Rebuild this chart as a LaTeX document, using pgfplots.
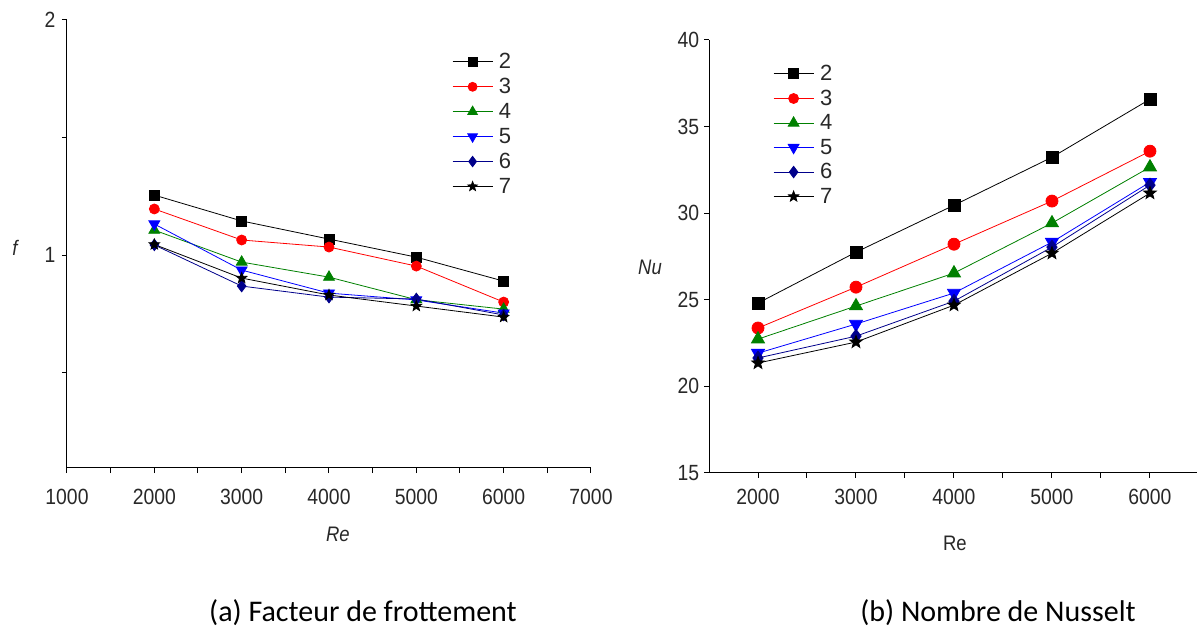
\documentclass[border=0pt]{standalone}
\usepackage{pgfplots}
\pgfplotsset{compat=1.18}
\usepackage{fontspec}
\setmainfont{Liberation Sans}
\newfontfamily\capfont{Carlito}
\usetikzlibrary{plotmarks}

\pgfdeclareplotmark{fstar}{%
  \pgfpathmoveto{\pgfpointpolar{90}{\pgfplotmarksize}}%
  \pgfpathlineto{\pgfpointpolar{126}{0.42\pgfplotmarksize}}%
  \pgfpathlineto{\pgfpointpolar{162}{\pgfplotmarksize}}%
  \pgfpathlineto{\pgfpointpolar{198}{0.42\pgfplotmarksize}}%
  \pgfpathlineto{\pgfpointpolar{234}{\pgfplotmarksize}}%
  \pgfpathlineto{\pgfpointpolar{270}{0.42\pgfplotmarksize}}%
  \pgfpathlineto{\pgfpointpolar{306}{\pgfplotmarksize}}%
  \pgfpathlineto{\pgfpointpolar{342}{0.42\pgfplotmarksize}}%
  \pgfpathlineto{\pgfpointpolar{18}{\pgfplotmarksize}}%
  \pgfpathlineto{\pgfpointpolar{54}{0.42\pgfplotmarksize}}%
  \pgfpathclose
  \pgfusepathqfillstroke
}

\definecolor{ogreen}{RGB}{0,128,0}
\definecolor{onavy}{RGB}{0,0,139}
\definecolor{txt}{RGB}{40,40,40}

\pgfplotsset{
  common/.style={
    scale only axis,
    axis x line*=bottom, axis y line*=left,
    axis line style={line width=1pt, black},
    tick align=outside,
    major tick length=5pt, minor tick length=5pt,
    every tick/.style={line width=1pt, black},
    tick label style={font=\fontsize{22}{24}\selectfont, text=txt, xscale=0.88},
    /pgf/number format/assume math mode=true,
    /pgf/number format/1000 sep={},
    scaled ticks=false,
    legend cell align=left,
    legend style={draw=none, fill=none, font=\fontsize{22}{24}\selectfont, text=txt,
      /tikz/every odd column/.append style={column sep=4pt}},
    s2/.style={black, line width=0.8pt, mark=square*, mark options={solid, fill=black}},
    s3/.style={red, line width=0.8pt, mark=*, mark options={solid, fill=red}},
    s4/.style={ogreen, line width=0.8pt, mark=triangle*, mark options={solid, fill=ogreen, scale=1.25}},
    s5/.style={blue, line width=0.8pt, mark=triangle*, mark options={solid, fill=blue, rotate=180, scale=1.25}},
    s6/.style={onavy, line width=0.8pt, mark=diamond*, mark options={solid, fill=onavy, scale=1.15}},
    s7/.style={black, line width=0.8pt, mark=fstar, mark options={solid, fill=black, scale=1.1}},
  }
}

\pgfplotstableread{
Re   a2    a3    a4    a5    a6    a7
2000 1.255 1.196 1.106 1.132 1.043 1.045
3000 1.145 1.064 0.970 0.936 0.868 0.902
4000 1.068 1.034 0.906 0.838 0.821 0.830
5000 0.991 0.953 0.810 0.809 0.813 0.783
6000 0.889 0.800 0.770 0.753 0.745 0.736
}\ftab

\pgfplotstableread{
Re   b2    b3    b4    b5    b6    b7
2000 24.81 23.37 22.73 21.92 21.64 21.35
3000 27.75 25.73 24.64 23.60 22.90 22.56
4000 30.46 28.21 26.54 25.39 24.92 24.69
5000 33.23 30.70 29.43 28.33 28.04 27.69
6000 36.58 33.58 32.66 31.79 31.62 31.16
}\nutab

\begin{document}
\begin{tikzpicture}
\useasboundingbox (0,0) rectangle (1197pt,632pt);

% ---------- (a) friction factor ----------
\begin{axis}[common,
  at={(67pt,164pt)}, anchor=south west,
  width=524pt, height=448pt,
  xmin=1000, xmax=7000, ymin=0.094, ymax=2,
  xtick={1000,2000,...,7000},
  minor xtick={1500,2500,...,6500},
  ytick={1,2}, minor ytick={0.5,1.5},
  xticklabel style={yshift=-13pt},
  yticklabel style={xshift=-4pt},
  xlabel={\fontsize{21}{24}\selectfont\itshape Re},
  every axis x label/.style={at={(rel axis cs:0.517,0)}, anchor=center, yshift=-66pt, text=txt, xscale=0.88},
  ylabel={\fontsize{21}{24}\selectfont\itshape f},
  every axis y label/.style={at={(rel axis cs:0,0.491)}, anchor=center, xshift=-52pt, text=txt, xscale=0.88},
  mark size=5pt,
  legend image code/.code={\draw[mark repeat=2, mark phase=2, mark size=4.5pt] plot coordinates {(0pt,0pt) (20pt,0pt) (40pt,0pt)};},
  legend style={at={(rel axis cs:0.729,0.935)}, anchor=north west, row sep=4.2pt},
]
\addplot[s2] table[x=Re, y=a2] {\ftab}; \addlegendentry{2}
\addplot[s3] table[x=Re, y=a3] {\ftab}; \addlegendentry{3}
\addplot[s4] table[x=Re, y=a4] {\ftab}; \addlegendentry{4}
\addplot[s5] table[x=Re, y=a5] {\ftab}; \addlegendentry{5}
\addplot[s6] table[x=Re, y=a6] {\ftab}; \addlegendentry{6}
\addplot[s7] table[x=Re, y=a7] {\ftab}; \addlegendentry{7}
\end{axis}

% ---------- (b) Nusselt ----------
\begin{axis}[common,
  at={(709pt,159pt)}, anchor=south west,
  width=488pt, height=433pt,
  xmin=1500, xmax=6480, ymin=15, ymax=40,
  xtick={2000,3000,...,6000},
  minor xtick={2500,3500,...,5500},
  ytick={15,20,...,40},
  xticklabel style={yshift=-8pt},
  yticklabel style={xshift=-2pt},
  xlabel={\fontsize{21}{24}\selectfont Re},
  every axis x label/.style={at={(rel axis cs:0.504,0)}, anchor=center, yshift=-70pt, text=txt, xscale=0.88},
  ylabel={\fontsize{21}{24}\selectfont\itshape Nu},
  every axis y label/.style={at={(rel axis cs:0,0.476)}, anchor=center, xshift=-59pt, text=txt, xscale=0.88},
  mark size=6pt,
  legend image code/.code={\draw[mark repeat=2, mark phase=2, mark size=5pt] plot coordinates {(0pt,0pt) (20pt,0pt) (40pt,0pt)};},
  legend style={at={(rel axis cs:0.125,0.951)}, anchor=north west, row sep=3.8pt},
]
\addplot[s2] table[x=Re, y=b2] {\nutab}; \addlegendentry{2}
\addplot[s3] table[x=Re, y=b3] {\nutab}; \addlegendentry{3}
\addplot[s4] table[x=Re, y=b4] {\nutab}; \addlegendentry{4}
\addplot[s5] table[x=Re, y=b5] {\nutab}; \addlegendentry{5}
\addplot[s6] table[x=Re, y=b6] {\nutab}; \addlegendentry{6}
\addplot[s7] table[x=Re, y=b7] {\nutab}; \addlegendentry{7}
\end{axis}

\node[font=\capfont\fontsize{30}{34}\selectfont, anchor=base, inner sep=0pt] at (363pt,10pt) {(a) Facteur de frottement};
\node[font=\capfont\fontsize{30}{34}\selectfont, anchor=base, inner sep=0pt] at (998pt,10pt) {(b) Nombre de Nusselt};
\end{tikzpicture}
\end{document}
